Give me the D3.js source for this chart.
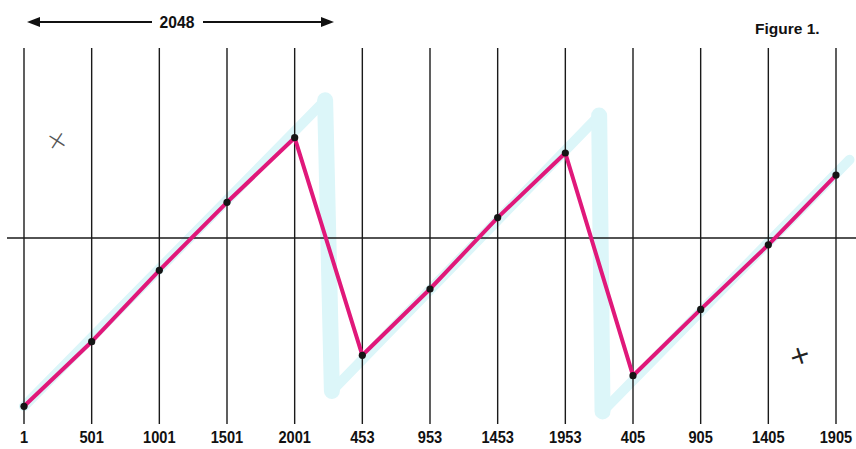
<!DOCTYPE html>
<html>
<head>
<meta charset="utf-8">
<script src="https://cdn.jsdelivr.net/npm/d3@7"></script>
<style>
  body { margin: 0; background: #fff; }
  svg { display: block; }
  .lbl { font-family: "Liberation Sans", Arial, sans-serif; font-weight: bold; fill: #111; }
</style>
</head>
<body>
<div id="chart"></div>
<script>
// sample phase labels (mod 2048) along the x axis
const phases = ['1', '501', '1001', '1501', '2001', '453', '953', '1453', '1953', '405', '905', '1405', '1905'];
// sampled amplitude at each phase (axis = 0)
const sampled = [-0.99, -0.61, -0.19, 0.21, 0.59, -0.69, -0.30, 0.12, 0.50, -0.81, -0.42, -0.04, 0.37];

// faint cyan "ideal" sawtooth behind, as (sample index, amplitude)
const idealIdx = [0, 4.45, 4.55, 8.5, 8.55, 12.2];
const idealVal = [-0.99, 0.81, -0.90, 0.72, -1.02, 0.46];

const width = 856, height = 449;

const svg = d3.select('#chart').append('svg')
  .attr('width', width)
  .attr('height', height);

const x = d3.scalePoint()
  .domain(phases)
  .range([24, 836]);

const xi = d3.scaleLinear()
  .domain([0, phases.length - 1])
  .range([24, 836]);

const y = d3.scaleLinear()
  .domain([-1, 1])
  .range([408, 68]);

// cyan ideal wave, drawn segment by segment (the drops are broader strokes)
const ideal = d3.zip(idealIdx, idealVal);
const segs = d3.pairs(ideal);

svg.append('g')
  .selectAll('line')
  .data(segs)
  .join('line')
  .attr('x1', d => xi(d[0][0]))
  .attr('y1', d => y(d[0][1]))
  .attr('x2', d => xi(d[1][0]))
  .attr('y2', d => y(d[1][1]))
  .attr('stroke', '#dcf6f9')
  .attr('stroke-width', d => d[1][1] < d[0][1] ? 16 : 10)
  .attr('stroke-linecap', 'round');

// vertical grid lines
svg.append('g')
  .selectAll('line')
  .data(phases)
  .join('line')
  .attr('x1', d => x(d))
  .attr('x2', d => x(d))
  .attr('y1', 48)
  .attr('y2', 424)
  .attr('stroke', '#1a1a1a')
  .attr('stroke-width', 1.4);

// horizontal axis
svg.append('line')
  .attr('x1', 7)
  .attr('x2', width)
  .attr('y1', y(0))
  .attr('y2', y(0))
  .attr('stroke', '#1a1a1a')
  .attr('stroke-width', 1.6);

// magenta sampled line
const line = d3.line()
  .x((d, i) => x(phases[i]))
  .y(d => y(d));

svg.append('path')
  .datum(sampled)
  .attr('d', line)
  .attr('fill', 'none')
  .attr('stroke', '#e0187a')
  .attr('stroke-width', 4)
  .attr('stroke-linejoin', 'round');

svg.append('g')
  .selectAll('circle')
  .data(sampled)
  .join('circle')
  .attr('cx', (d, i) => x(phases[i]))
  .attr('cy', d => y(d))
  .attr('r', 3.6)
  .attr('fill', '#151515');

// x labels
svg.append('g')
  .selectAll('text')
  .data(phases)
  .join('text')
  .attr('class', 'lbl')
  .attr('text-anchor', 'middle')
  .attr('font-size', 17)
  .attr('transform', d => 'translate(' + x(d) + ',443) scale(0.86,1)')
  .text(d => d);

// 2048 span arrow
const arrowY = 22;
const ax0 = 27, ax1 = 334;
svg.append('line')
  .attr('x1', ax0 + 8).attr('x2', 152)
  .attr('y1', arrowY).attr('y2', arrowY)
  .attr('stroke', '#111').attr('stroke-width', 1.8);
svg.append('line')
  .attr('x1', 203).attr('x2', ax1 - 8)
  .attr('y1', arrowY).attr('y2', arrowY)
  .attr('stroke', '#111').attr('stroke-width', 1.8);
svg.append('path')
  .attr('d', `M${ax0},${arrowY} L${ax0 + 13},${arrowY - 5} L${ax0 + 13},${arrowY + 5} Z`)
  .attr('fill', '#111');
svg.append('path')
  .attr('d', `M${ax1},${arrowY} L${ax1 - 13},${arrowY - 5} L${ax1 - 13},${arrowY + 5} Z`)
  .attr('fill', '#111');
svg.append('text')
  .attr('class', 'lbl')
  .attr('text-anchor', 'middle')
  .attr('font-size', 17)
  .attr('transform', 'translate(177,28) scale(0.92,1)')
  .text('2048');

// figure caption
svg.append('text')
  .attr('class', 'lbl')
  .attr('x', 755)
  .attr('y', 34)
  .attr('font-size', 15.5)
  .text('Figure 1.');

// hand-drawn marks
svg.append('text')
  .attr('x', 57).attr('y', 149)
  .attr('text-anchor', 'middle')
  .attr('font-family', 'DejaVu Sans')
  .attr('font-weight', 'lighter')
  .attr('font-size', 26)
  .attr('fill', '#555')
  .attr('transform', 'rotate(-12,57,141)')
  .text('×');
svg.append('text')
  .attr('x', 800).attr('y', 364)
  .attr('text-anchor', 'middle')
  .attr('font-family', 'DejaVu Sans')
  .attr('font-size', 26)
  .attr('fill', '#222')
  .attr('transform', 'rotate(-18,800,356)')
  .text('+');
</script>
</body>
</html>
